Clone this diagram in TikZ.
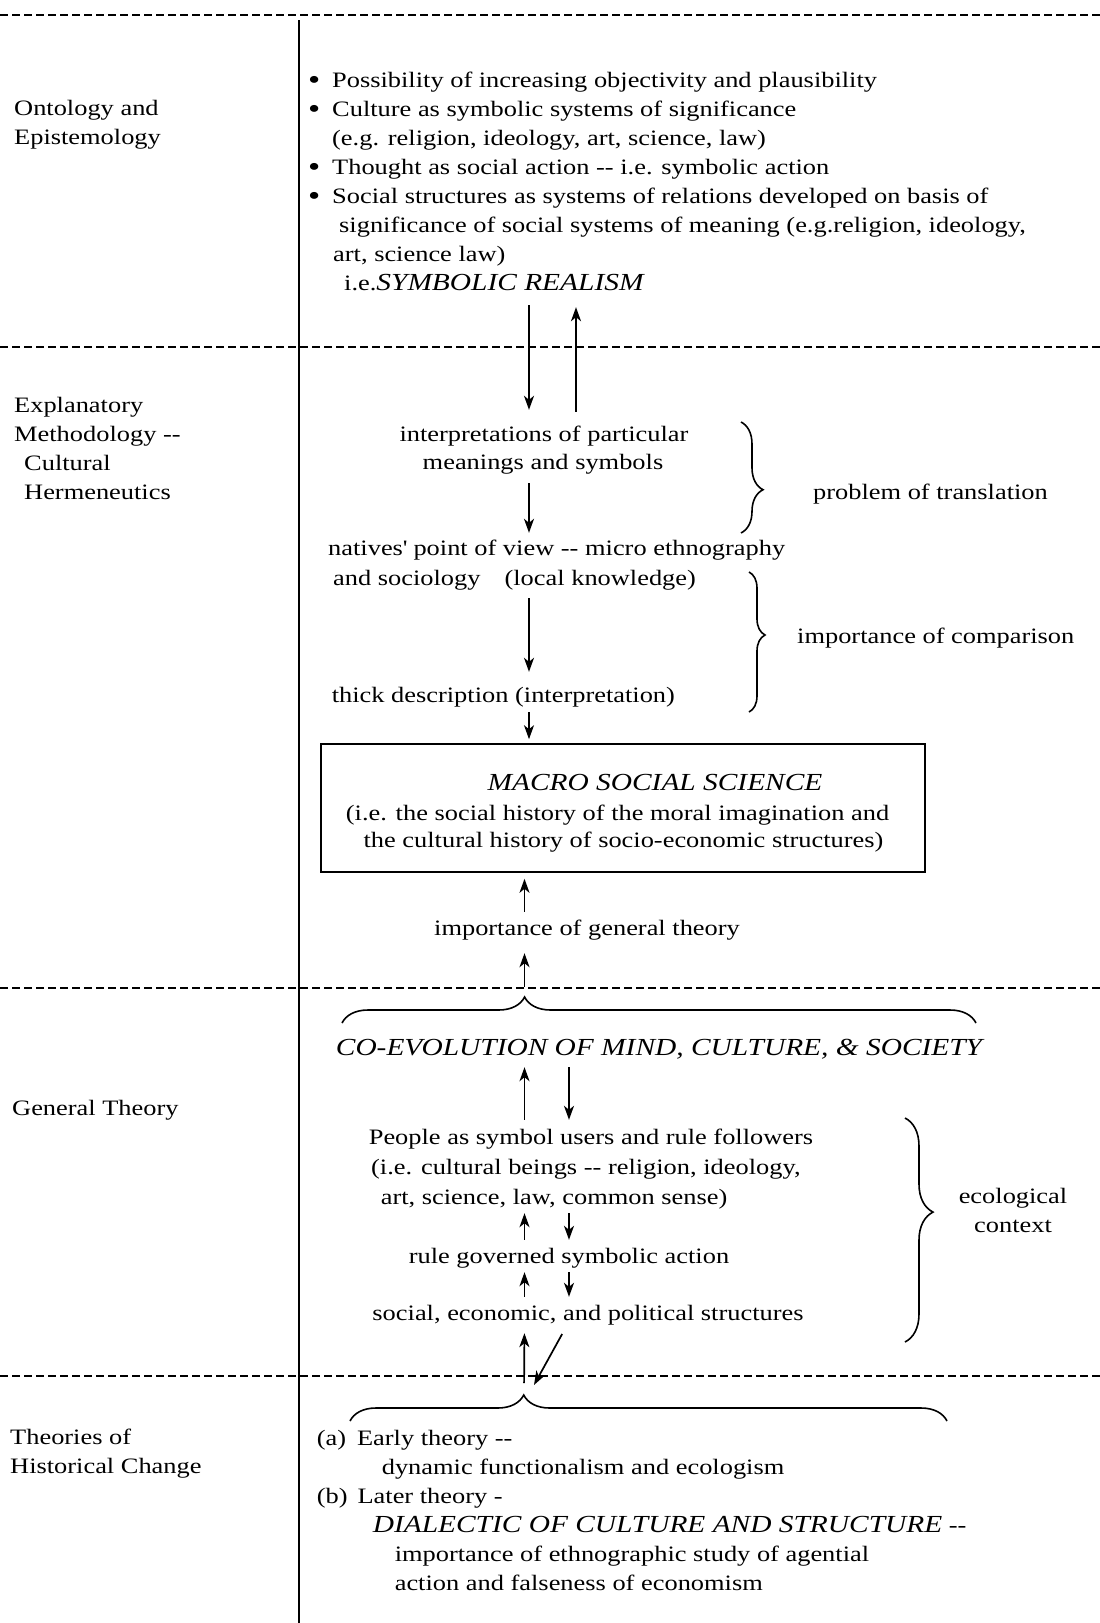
\documentclass[tikz,border=0pt]{standalone}
\usepackage{fontspec}
\setmainfont{Liberation Serif}[FakeStretch=1.2]
\usetikzlibrary{arrows.meta,decorations.pathreplacing}
\newcommand\capit[1]{{\fontsize{24.5}{29}\selectfont\itshape #1}}
\newcommand\bul{\makebox[24pt][l]{\fontsize{29}{29}\selectfont\raisebox{-1.5pt}{\textbullet}}}

\begin{document}
\begin{tikzpicture}[x=1pt, y=-1pt, font=\fontsize{22}{29}\selectfont,
    txt/.style={inner sep=0pt, text height=15pt, text depth=5pt},
    lab/.style={inner sep=0pt, align=left, anchor=north west},
    arr/.style={line width=1.7pt, -{Stealth[length=14pt,width=10pt,inset=4pt]}, shorten <=8pt, shorten >=8pt},
    sep/.style={line width=1.1pt, dash pattern=on 8pt off 4pt},
    brc/.style={line width=1.6pt, decorate}]
  \useasboundingbox (0,0) rectangle (1100,1623);

  % section lines
  \draw [sep] (0,15) -- (1100,15);
  \draw [sep] (0,347) -- (1100,347);
  \draw [sep] (0,988) -- (1100,988);
  \draw [sep] (0,1376) -- (1100,1376);
  \draw [line width=1.8pt] (299,20) -- (299,1623);

  % left column
  \node [lab] (ontlab) at (14,100) {Ontology and\\Epistemology};
  \node [lab] (explab) at (14,397) {Explanatory\\Methodology -{}-\\\hspace*{10pt}Cultural\\\hspace*{10pt}Hermeneutics};
  \node [lab] (genlab) at (12,1100) {General Theory};
  \node [lab] (histlab) at (10,1429) {Theories of\\Historical Change};

  % arrow columns
  \coordinate (cA) at (529,0);
  \coordinate (cB) at (576,0);
  \coordinate (cC) at (524.5,0);
  \coordinate (cD) at (569,0);
  \coordinate (cE) at (567,0);

  % ontology
  \node [lab] (onto) at (308,72) {%
    \bul Possibility of increasing objectivity and plausibility\\
    \bul Culture as symbolic systems of significance\\
    \hspace*{24pt}(e.g. religion, ideology, art, science, law)\\
    \bul Thought as social action -{}- i.e. symbolic action\\
    \bul Social structures as systems of relations developed on basis of\\
    \hspace*{31pt}significance of social systems of meaning (e.g.religion, ideology,\\
    \hspace*{25pt}art, science law)};
  \node [txt, anchor=base west] (realism) at (344,290) {i.e.\capit{SYMBOLIC REALISM}};

  % hermeneutics
  \node [txt, anchor=base] (interp) at (544,441) {interpretations of particular};
  \node [txt, anchor=base] (meanings) at (543,469) {meanings and symbols};
  \node [txt, anchor=base west] (natives) at (328,555) {natives\textquotesingle{} point of view -{}- micro ethnography};
  \node [txt, anchor=base west] (socio) at (333,585) {and sociology\hspace{24pt}(local knowledge)};
  \node [txt, anchor=base west] (thick) at (331.6,702) {thick description (interpretation)};
  \draw [brc, decoration={brace, amplitude=22pt, aspect=0.61}] (741,422) -- (741,533);
  \node [txt, anchor=base west] (transl) at (813,499) {problem of translation};
  \draw [brc, decoration={brace, amplitude=16pt, aspect=0.45}] (749,572) -- (749,712);
  \node [txt, anchor=base west] (compar) at (797,643) {importance of comparison};

  % macro social science
  \node [draw, line width=1.6pt, minimum width=604pt, minimum height=128pt, inner sep=0pt] (box) at (623,808) {};
  \node [txt, anchor=base] (macro) at (655,790) {\capit{MACRO SOCIAL SCIENCE}};
  \node [txt, anchor=base] (macro1) at (617.5,820) {(i.e. the social history of the moral imagination and};
  \node [txt, anchor=base] (macro2) at (623.5,847) {the cultural history of socio-economic structures)};
  \node [txt, anchor=base] (general) at (587,935) {importance of general theory};

  \draw [arr, shorten <=10pt, shorten >=16pt] (realism.south -| cA) -- (interp.north -| cA);
  \draw [arr, shorten <=14pt, shorten >=12pt] (interp.north -| cB) -- (realism.south -| cB);
  \draw [arr, shorten <=9pt, shorten >=7pt] (meanings.south -| cA) -- (natives.north -| cA);
  \draw [arr, shorten >=15pt] (socio.south -| cA) -- (thick.north -| cA);
  \draw [arr, shorten <=5pt, shorten >=4pt] (thick.south -| cA) -- (box.north -| cA);
  \draw [arr, shorten >=6pt] (general.north -| cC) -- (box.south -| cC);

  % general theory
  \draw [brc, decoration={brace, amplitude=26pt, aspect=0.288}] (342,1023) -- (976,1023);
  \coordinate (tip3) at (524.5,997);
  \draw [arr, shorten <=10pt, shorten >=13pt] (tip3) -- (general.south -| cC);
  \node [txt, anchor=base] (coevo) at (659,1055) {\capit{CO-EVOLUTION OF MIND, CULTURE, \& SOCIETY}};
  \node [txt, anchor=base] (people) at (591,1144) {People as symbol users and rule followers};
  \node [txt, anchor=base west] (cult) at (371,1174) {(i.e. cultural beings -{}- religion, ideology,};
  \node [txt, anchor=base west] (art) at (380.6,1204) {art, science, law, common sense)};
  \node [txt, anchor=base] (rule) at (569,1263) {rule governed symbolic action};
  \node [txt, anchor=base] (social) at (588,1320) {social, economic, and political structures};
  \draw [brc, decoration={brace, amplitude=28pt, aspect=0.42}] (905,1118) -- (905,1342);
  \node [inner sep=0pt, align=center, anchor=north] (ecol) at (1013,1188) {ecological\\context};

  \draw [arr, shorten <=9pt, shorten >=7pt] (people.north -| cC) -- (coevo.south -| cC);
  \draw [arr, shorten <=7pt, shorten >=9pt] (coevo.south -| cD) -- (people.north -| cD);
  \draw [arr, shorten >=4pt] (rule.north -| cC) -- (art.south -| cC);
  \draw [arr, shorten <=4pt] (art.south -| cD) -- (rule.north -| cD);
  \draw [arr, shorten >=4pt] (social.north -| cC) -- (rule.south -| cC);
  \draw [arr, shorten <=4pt] (rule.south -| cD) -- (social.north -| cD);

  % historical change
  \draw [brc, decoration={brace, amplitude=26pt, aspect=0.291}] (350,1421) -- (947,1421);
  \coordinate (tip4) at (524,1395);
  \draw [arr, shorten <=12pt] (tip4) -- (social.south -| cC);
  \draw [arr, shorten <=10pt, shorten >=0pt] (social.south -| cE) -- ([xshift=10pt,yshift=10pt]tip4);
  \node [lab] (hist) at (316.6,1430) {%
    (a)\hspace{11pt}Early theory -{}-\\
    \hspace*{65pt}dynamic functionalism and ecologism\\
    (b)\hspace{10pt}Later theory -\\
    \hspace*{56pt}\capit{DIALECTIC OF CULTURE AND STRUCTURE} -{}-\\
    \hspace*{78pt}importance of ethnographic study of agential\\
    \hspace*{78pt}action and falseness of economism};
\end{tikzpicture}
\end{document}
